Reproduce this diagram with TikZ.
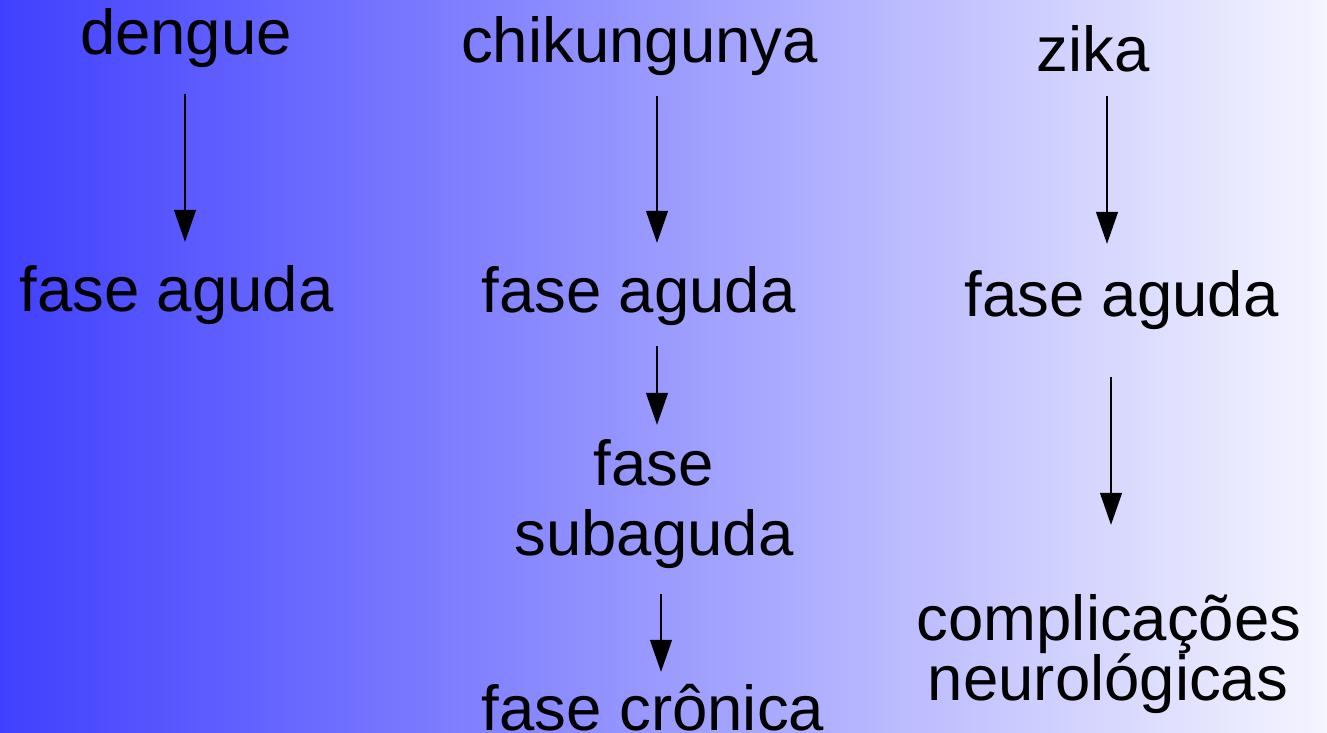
\documentclass[tikz,border=0pt]{standalone}
\usepackage{fontspec}
\setmainfont{Liberation Sans}
\usetikzlibrary{arrows.meta}
\definecolor{bgleft}{RGB}{64,64,255}
\definecolor{bgright}{RGB}{245,245,255}
\begin{document}
\begin{tikzpicture}[x=1pt,y=-1pt,
  lbl/.style={anchor=base,inner sep=0pt,text height=46pt,text depth=14pt,
    font=\fontsize{63.5}{70}\selectfont},
  arr/.style={draw=black,line width=1.2pt,-{Triangle[length=32pt,width=22pt]}}]
\useasboundingbox (0,0) rectangle (1327,733);
\shade[left color=bgleft,right color=bgright] (0,0) rectangle (1327,733);
% column 1
\node[lbl] (d1) at (186,55) {dengue};
\node[lbl] (d2) at (176.5,311) {fase aguda};
% column 2
\node[lbl] (c1) at (639.5,63) {chikungunya};
\node[lbl] (c2) at (638.5,312) {fase aguda};
\node[lbl] (c3) at (653.5,485) {fase};
\node[lbl] (c3b) at (654,555) {subaguda};
\node[lbl] (c4) at (653,730) {fase crônica};
% column 3
\node[lbl] (z1) at (1093,72) {zika};
\node[lbl] (z2) at (1121.5,316) {fase aguda};
\node[lbl] (z3) at (1109,640) {complicações};
\node[lbl] (z3b) at (1108,700) {neurológicas};
% arrows
\draw[arr] ([shift={(-1,25)}]d1.south) -- ([shift={(8.5,-23)}]d2.north);
\draw[arr] ([shift={(17.5,19)}]c1.south) -- ([shift={(18.5,-23)}]c2.north);
\draw[arr] ([shift={(14,10)}]z1.south) -- ([shift={(-14.5,-26)}]z2.north);
\draw[arr] ([shift={(18.5,20)}]c2.south) -- ([shift={(3.5,-14)}]c3.north);
\draw[arr] ([shift={(7,25)}]c3b.south) -- ([shift={(8,-12)}]c4.north);
\draw[arr] ([shift={(-10.5,47)}]z2.south) -- ([shift={(2,-69)}]z3.north);
\end{tikzpicture}
\end{document}
